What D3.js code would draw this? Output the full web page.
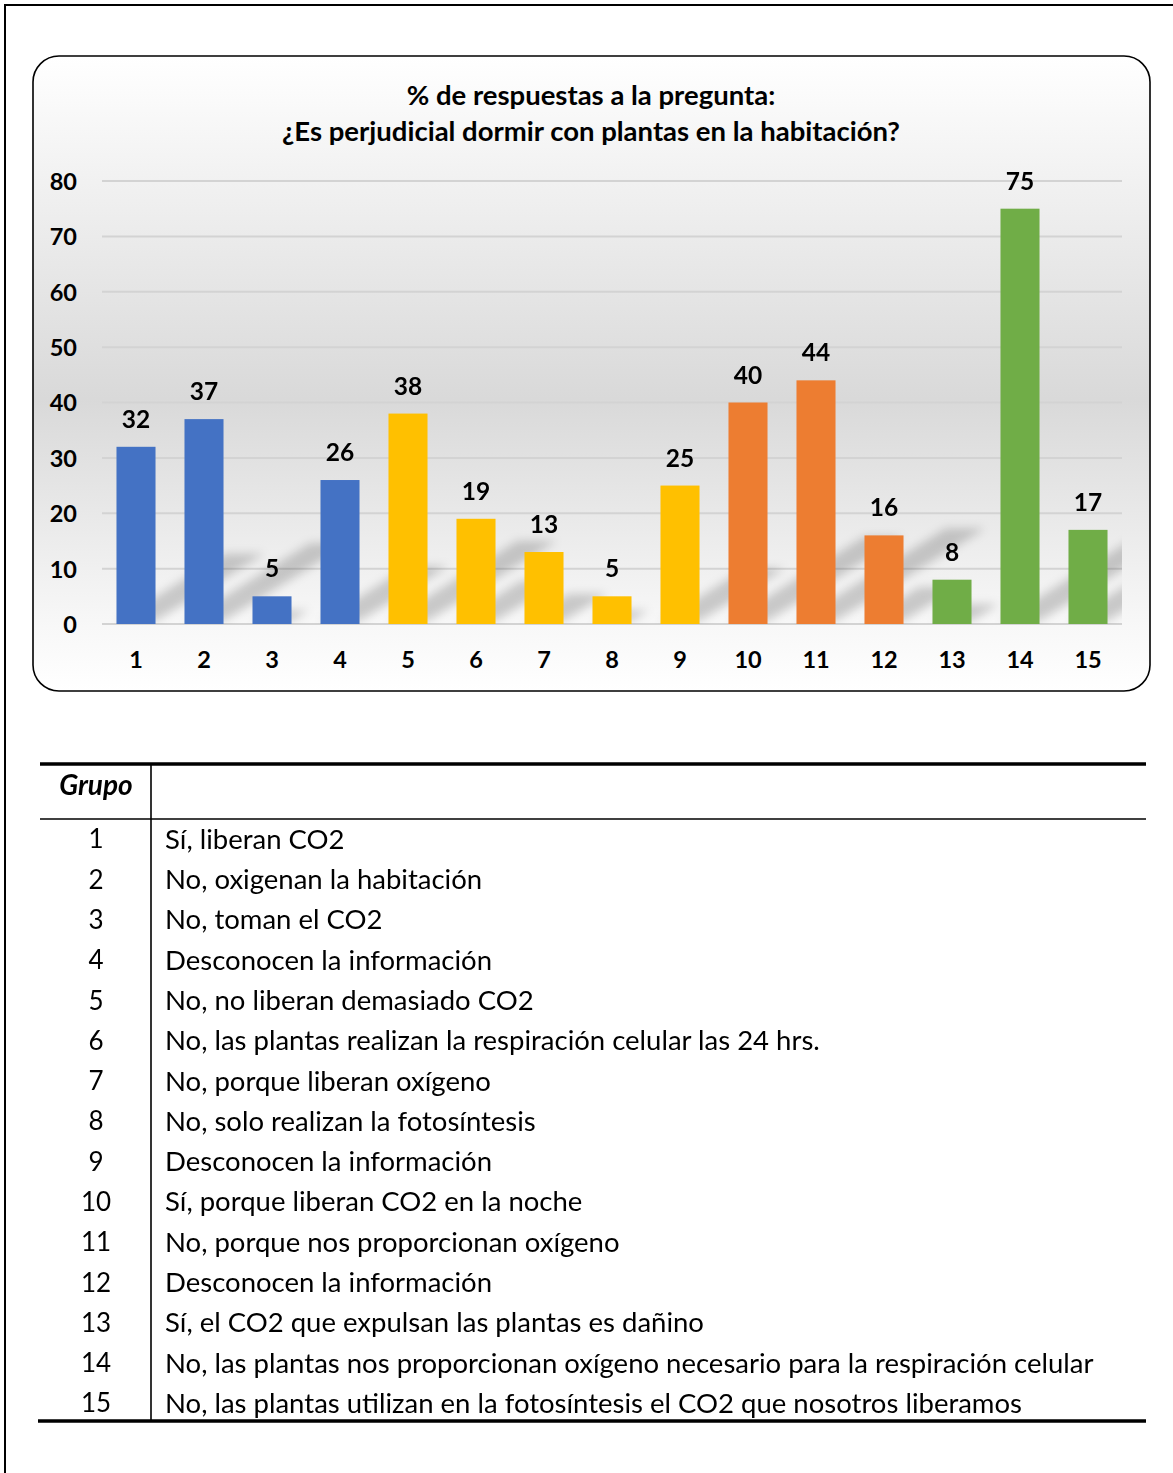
<!DOCTYPE html>
<html>
<head>
<meta charset="utf-8">
<script src="https://cdn.jsdelivr.net/npm/d3@7/dist/d3.min.js"></script>
<style>
  html, body { margin: 0; padding: 0; background: #ffffff; }
  svg { display: block; }
  text { font-family: Lato, "Open Sans", sans-serif; fill: #000; }
</style>
</head>
<body>
<svg id="chart" width="1173" height="1473"></svg>
<script>
// ---------- DATA ----------
const groups = ["1","2","3","4","5","6","7","8","9","10","11","12","13","14","15"];
const values = [32, 37, 5, 26, 38, 19, 13, 5, 25, 40, 44, 16, 8, 75, 17];
const groupColorKey = ["b","b","b","b","y","y","y","y","y","o","o","o","g","g","g"];
const colorMap = { b: "#4472C4", y: "#FFC000", o: "#ED7D31", g: "#70AD47" };
const yTicks = [0, 10, 20, 30, 40, 50, 60, 70, 80];
const titleLines = ["% de respuestas a la pregunta:", "¿Es perjudicial dormir con plantas en la habitación?"];
const tableHeader = "Grupo";
const descriptions = [
  "Sí, liberan CO2",
  "No, oxigenan la habitación",
  "No, toman el CO2",
  "Desconocen la información",
  "No, no liberan demasiado CO2",
  "No, las plantas realizan la respiración celular las 24 hrs.",
  "No, porque liberan oxígeno",
  "No, solo realizan la fotosíntesis",
  "Desconocen la información",
  "Sí, porque liberan CO2 en la noche",
  "No, porque nos proporcionan oxígeno",
  "Desconocen la información",
  "Sí, el CO2 que expulsan las plantas es dañino",
  "No, las plantas nos proporcionan oxígeno necesario para la respiración celular",
  "No, las plantas utilizan en la fotosíntesis el CO2 que nosotros liberamos"
];

// ---------- SETUP ----------
const svg = d3.select("#chart");
const defs = svg.append("defs");

// page border (top & left)
svg.append("line").attr("x1", 4).attr("x2", 1173).attr("y1", 5).attr("y2", 5)
  .attr("stroke", "#000").attr("stroke-width", 2);
svg.append("line").attr("x1", 5).attr("x2", 5).attr("y1", 4).attr("y2", 1473)
  .attr("stroke", "#000").attr("stroke-width", 2);

// chart box
const box = { x: 33, y: 56, w: 1117, h: 635 };
const grad = defs.append("linearGradient").attr("id", "bg")
  .attr("x1", 0).attr("y1", 0).attr("x2", 0).attr("y2", 1);
[[0, "#ffffff"], [0.54, "#d9d9d9"], [0.9, "#f8f8f8"], [1, "#ffffff"]].forEach(s =>
  grad.append("stop").attr("offset", s[0]).attr("stop-color", s[1]));

svg.append("rect").attr("x", box.x).attr("y", box.y).attr("width", box.w).attr("height", box.h)
  .attr("rx", 26).attr("ry", 26).attr("fill", "url(#bg)")
  .attr("stroke", "#000").attr("stroke-width", 1.6);

// title
const title = svg.append("text").attr("text-anchor", "middle")
  .style("font-weight", 700).style("font-size", "27.5px");
titleLines.forEach((t, i) =>
  title.append("tspan").attr("x", 591).attr("y", 105 + i * 36).text(t));

// scales
const plot = { left: 102, right: 1122, top: 181, bottom: 624 };
const x = d3.scaleBand().domain(groups).range([plot.left, plot.right])
  .paddingInner(0.426).paddingOuter(0.213);
const y = d3.scaleLinear().domain([0, 80]).range([plot.bottom, plot.top]);

// gridlines
svg.append("g").selectAll("line").data(yTicks).join("line")
  .attr("x1", plot.left).attr("x2", plot.right)
  .attr("y1", d => y(d)).attr("y2", d => y(d))
  .attr("stroke", "#d3d3d3").attr("stroke-width", 2);

// y axis labels
const yAxis = svg.append("g").attr("transform", `translate(${plot.left},0)`)
  .call(d3.axisLeft(y).tickValues(yTicks).tickSize(0).tickPadding(25));
yAxis.select(".domain").remove();
yAxis.selectAll("text").style("font-size", "23.5px").style("font-weight", 700)
  .style("font-family", "Lato, sans-serif").attr("fill", "#000").attr("dy", "0.36em");

// x axis labels
const xAxis = svg.append("g").attr("transform", `translate(0,${plot.bottom})`)
  .call(d3.axisBottom(x).tickSize(0).tickPadding(27));
xAxis.select(".domain").remove();
xAxis.selectAll("text").style("font-size", "23.5px").style("font-weight", 700)
  .style("font-family", "Lato, sans-serif").attr("fill", "#000");

// shadows
const blur = defs.append("filter").attr("id", "blur")
  .attr("x", "-50%").attr("y", "-50%").attr("width", "200%").attr("height", "200%");
blur.append("feGaussianBlur").attr("stdDeviation", 5);
defs.append("clipPath").attr("id", "plotclip").append("rect")
  .attr("x", plot.left).attr("y", plot.top - 40)
  .attr("width", plot.right - plot.left).attr("height", plot.bottom - plot.top + 40);

const data = groups.map((g, i) => ({ g, v: values[i], c: colorMap[groupColorKey[i]] }));

svg.append("g").attr("clip-path", "url(#plotclip)")
  .append("g").attr("filter", "url(#blur)")
  .selectAll("path").data(data).join("path")
  .attr("d", d => {
    const x0 = x(d.g), x1 = x0 + x.bandwidth(), b = y(0) - 3;
    const h = y(0) - y(d.v);
    const dy = h * 0.38, dx = dy / 0.62;
    return `M${x0},${b}L${x1},${b}L${x1 + dx},${b - dy}L${x0 + dx},${b - dy}Z`;
  })
  .attr("fill", "#000").attr("opacity", 0.18);

// bars
svg.append("g").selectAll("rect").data(data).join("rect")
  .attr("x", d => x(d.g)).attr("width", x.bandwidth())
  .attr("y", d => y(d.v)).attr("height", d => y(0) - y(d.v))
  .attr("fill", d => d.c);

// data labels
svg.append("g").selectAll("text").data(data).join("text")
  .attr("x", d => x(d.g) + x.bandwidth() / 2)
  .attr("y", d => y(d.v) - 19)
  .attr("text-anchor", "middle")
  .style("font-size", "24.5px").style("font-weight", 700)
  .text(d => d.v);

// ---------- TABLE ----------
const tbl = { left: 40, right: 1146, top: 764, headerBottom: 819, bottom: 1421, colX: 151 };
const rowY = d3.scalePoint().domain(groups).range([839, 1403]);

svg.append("line").attr("x1", tbl.left).attr("x2", tbl.right)
  .attr("y1", tbl.top).attr("y2", tbl.top).attr("stroke", "#000").attr("stroke-width", 3.5);
svg.append("line").attr("x1", tbl.left).attr("x2", tbl.right)
  .attr("y1", tbl.headerBottom).attr("y2", tbl.headerBottom).attr("stroke", "#000").attr("stroke-width", 1.6);
svg.append("line").attr("x1", 38).attr("x2", tbl.right)
  .attr("y1", tbl.bottom).attr("y2", tbl.bottom).attr("stroke", "#000").attr("stroke-width", 3.5);
svg.append("line").attr("x1", tbl.colX).attr("x2", tbl.colX)
  .attr("y1", tbl.top).attr("y2", tbl.bottom).attr("stroke", "#000").attr("stroke-width", 1.6);

svg.append("text").attr("x", 96).attr("y", 785).attr("dy", "0.36em")
  .attr("text-anchor", "middle")
  .style("font-size", "28px").style("font-weight", 700).style("font-style", "italic")
  .text(tableHeader);

const rows = svg.append("g").selectAll("g").data(groups).join("g");
rows.append("text").attr("x", 96).attr("y", d => rowY(d)).attr("dy", "0.36em")
  .attr("text-anchor", "middle").style("font-size", "26px")
  .text(d => d);
rows.append("text").attr("x", 165).attr("y", d => rowY(d)).attr("dy", "0.36em")
  .style("font-size", "27.5px")
  .text((d, i) => descriptions[i]);
</script>
</body>
</html>
